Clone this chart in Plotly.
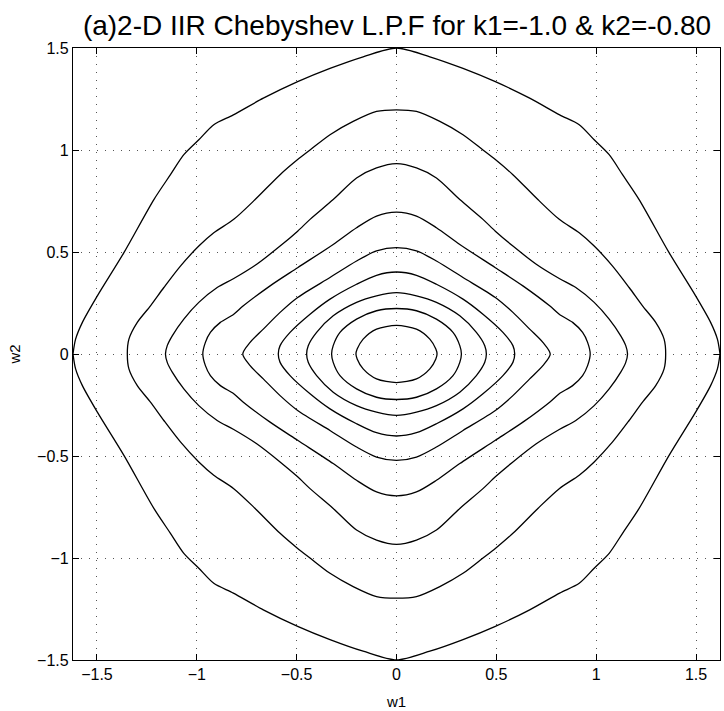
import plotly.graph_objects as go

# Contour rings of the 2-D Chebyshev low-pass response, first quadrant
# (w1 >= 0, w2 >= 0); the other quadrants follow by symmetry.
ring1_w1 = [0.0, 0.1, 0.167, 0.197, 0.203]
ring1_w2 = [0.140, 0.122, 0.073, 0.024, 0.0]

ring2_w1 = [0.0, 0.1, 0.2, 0.283, 0.317, 0.325]
ring2_w2 = [0.223, 0.212, 0.171, 0.106, 0.041, 0.0]

ring3_w1 = [0.0, 0.1, 0.2, 0.317, 0.4, 0.442, 0.45]
ring3_w2 = [0.301, 0.285, 0.253, 0.187, 0.106, 0.041, 0.0]

ring4_w1 = [0.0, 0.1, 0.2, 0.333, 0.433, 0.533, 0.583, 0.592]
ring4_w2 = [0.402, 0.386, 0.342, 0.269, 0.195, 0.106, 0.041, 0.0]

ring5_w1 = [0.0, 0.1, 0.2, 0.333, 0.495, 0.583, 0.667, 0.733, 0.77]
ring5_w2 = [0.521, 0.505, 0.456, 0.375, 0.277, 0.204, 0.122, 0.057, 0.0]

ring6_w1 = [0.0, 0.1, 0.2, 0.317, 0.495, 0.633, 0.767, 0.815, 0.882, 0.932, 0.957, 0.97]
ring6_w2 = [0.695, 0.676, 0.619, 0.537, 0.423, 0.334, 0.236, 0.195, 0.155, 0.106, 0.057, 0.0]

ring7_w1 = [0.0, 0.1, 0.2, 0.317, 0.433, 0.495, 0.583, 0.7, 0.815, 0.898, 0.99, 1.065,
            1.123, 1.148, 1.157]
ring7_w2 = [0.933, 0.912, 0.863, 0.757, 0.66, 0.602, 0.529, 0.44, 0.37, 0.326, 0.253, 0.171,
            0.089, 0.041, 0.0]

ring8_w1 = [0.0, 0.1, 0.217, 0.333, 0.433, 0.495, 0.583, 0.708, 0.815, 0.915, 0.99, 1.082,
            1.165, 1.232, 1.298, 1.34, 1.348]
ring8_w2 = [1.197, 1.189, 1.14, 1.075, 1.0, 0.953, 0.879, 0.757, 0.66, 0.594, 0.529, 0.431,
            0.326, 0.236, 0.155, 0.073, 0.0]

# outermost ring: it meets the w1 limits in a vertex
ring9_w1 = [0.0, 0.167, 0.333, 0.495, 0.667, 0.817, 0.915, 0.99, 1.065, 1.132, 1.215, 1.365,
            1.498, 1.573, 1.607, 1.62]
ring9_w2 = [1.5, 1.457, 1.40, 1.335, 1.254, 1.172, 1.124, 1.05, 0.977, 0.879, 0.757, 0.497,
            0.285, 0.155, 0.073, 0.0]

smooth_rings = [
    (ring1_w1, ring1_w2), (ring2_w1, ring2_w2), (ring3_w1, ring3_w2),
    (ring4_w1, ring4_w2), (ring5_w1, ring5_w2), (ring6_w1, ring6_w2),
    (ring7_w1, ring7_w2), (ring8_w1, ring8_w2),
]

x_ticks = [-1.5, -1, -0.5, 0, 0.5, 1, 1.5]
y_ticks = [-1.5, -1, -0.5, 0, 0.5, 1, 1.5]


def upper_arc(q1x, q1y):
    """Arc from (-w1max, 0) over the top to (w1max, 0)."""
    xs = [-x for x in reversed(q1x)] + list(q1x[1:])
    ys = [y for y in reversed(q1y)] + list(q1y[1:])
    return xs, ys


def closed_loop(q1x, q1y):
    """Mirror a first-quadrant arc into a closed curve through all quadrants."""
    ux, uy = upper_arc(q1x, q1y)
    xs = ux + [x for x in reversed(ux[:-1])]
    ys = uy + [-y for y in reversed(uy[:-1])]
    return xs, ys


line_style = dict(color="black", width=1.3, shape="spline", smoothing=0.8)

fig = go.Figure()
for rx, ry in smooth_rings:
    lx, ly = closed_loop(rx, ry)
    fig.add_trace(go.Scatter(x=lx, y=ly, mode="lines", line=line_style,
                             hoverinfo="skip", showlegend=False))

# outer ring drawn as an upper and a lower half so its side vertices stay sharp
ux, uy = upper_arc(ring9_w1, ring9_w2)
for sign in (1, -1):
    fig.add_trace(go.Scatter(x=ux, y=[sign * v for v in uy], mode="lines",
                             line=line_style, hoverinfo="skip", showlegend=False))

font_family = "Liberation Sans, Arial, Helvetica, sans-serif"


def tick_text(vals):
    return [("\u2212" if v < 0 else "") + f"{abs(v):g}" for v in vals]


axis_common = dict(
    showline=True, linecolor="black", linewidth=1.2, mirror="ticks",
    ticks="inside", ticklen=6, tickwidth=1, tickcolor="black",
    showgrid=True, gridcolor="#555555", griddash="1px,7px", gridwidth=1,
    zeroline=False, tickfont=dict(size=16, color="black", family=font_family),
    title_font=dict(size=15, color="black", family=font_family),
)

fig.update_xaxes(
    range=[-1.62, 1.62], tickvals=x_ticks, ticktext=tick_text(x_ticks),
    title_text="w1", title_standoff=14, **axis_common,
)
fig.update_yaxes(
    range=[-1.5, 1.5], tickvals=y_ticks, ticktext=tick_text(y_ticks),
    title_text="w2", title_standoff=12, **axis_common,
)

fig.update_layout(
    width=724, height=711,
    margin=dict(l=73, r=3, t=48, b=49),
    paper_bgcolor="white", plot_bgcolor="white",
    font=dict(family=font_family, color="black"),
    title=dict(
        text="(a)2-D IIR Chebyshev L.P.F for k1=-1.0 & k2=-0.80",
        x=397 / 724, xanchor="center", y=1 - 25 / 711, yanchor="middle",
        font=dict(size=28, color="black", family=font_family),
    ),
)

fig.write_html("out.html")
